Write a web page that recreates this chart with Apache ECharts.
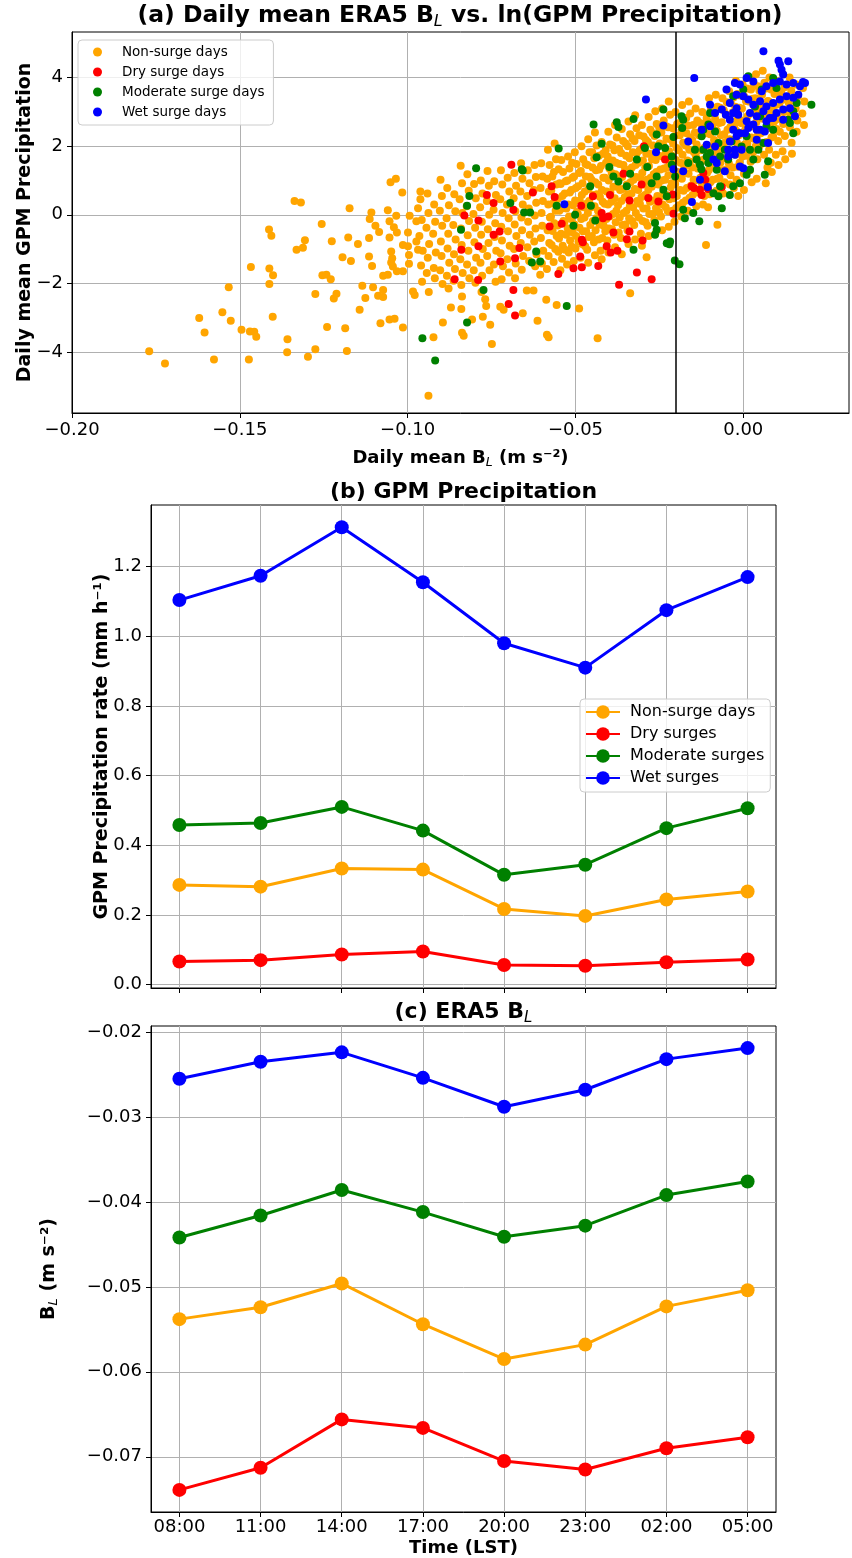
<!DOCTYPE html>
<html><head><meta charset="utf-8">
<script src="https://cdn.jsdelivr.net/npm/echarts@6/dist/echarts.min.js"></script>
<style>html,body{margin:0;padding:0;background:#fff}#c{width:852px;height:1558px}</style>
</head><body><div id="c"></div>
<script>
const FONT = 'DejaVu Sans';

// ---------- Panel (b) and (c) data ----------
const timeLabels = ['08:00','11:00','14:00','17:00','20:00','23:00','02:00','05:00'];
const gpmNonSurge = [0.286,0.281,0.333,0.330,0.217,0.197,0.244,0.267];
const gpmDry      = [0.066,0.070,0.086,0.095,0.056,0.054,0.064,0.072];
const gpmModerate = [0.458,0.464,0.510,0.442,0.315,0.344,0.449,0.506];
const gpmWet      = [1.104,1.174,1.313,1.155,0.980,0.910,1.075,1.170];

const blNonSurge = [-0.0538,-0.0524,-0.0496,-0.0544,-0.0585,-0.0568,-0.0523,-0.0504];
const blDry      = [-0.0739,-0.0713,-0.0656,-0.0666,-0.0705,-0.0715,-0.0690,-0.0677];
const blModerate = [-0.0442,-0.0416,-0.0386,-0.0412,-0.0441,-0.0428,-0.0392,-0.0376];
const blWet      = [-0.0255,-0.0235,-0.0224,-0.0254,-0.0288,-0.0268,-0.0232,-0.0219];

// ---------- Tick labels ----------
const ticksAx = [-0.20,-0.15,-0.10,-0.05,0.00];
const ticksAy = [-4,-2,0,2,4];
const ticksBy = [0.0,0.2,0.4,0.6,0.8,1.0,1.2];
const ticksCy = [-0.07,-0.06,-0.05,-0.04,-0.03,-0.02];
const ticksTime = [0,1,2,3,4,5,6,7];
const surgeThreshold = -0.02;

// ---------- Panel (a) scatter data: [daily mean B_L, ln(precip)] ----------
const scatterNonSurge = [
[-0.1770,-3.98],[-0.1723,-4.34],[-0.1621,-3.01],[-0.1605,-3.43],[-0.1577,-4.22],[-0.1552,-2.84],[-0.1533,-2.11],[-0.1527,-3.09],[-0.1495,-3.35],[-0.1473,-4.22],[-0.1470,-3.40],[-0.1457,-3.41],[-0.1451,-3.56],[-0.1467,-1.52],[-0.1413,-0.43],[-0.1406,-0.61],[-0.1412,-1.57],[-0.1401,-1.76],[-0.1412,-2.02],[-0.1402,-2.97],[-0.1358,-3.63],[-0.1359,-4.01],[-0.1337,0.40],[-0.1318,0.36],[-0.1331,-1.02],[-0.1312,-0.96],[-0.1306,-0.74],[-0.1297,-4.14],[-0.1275,-3.92],[-0.1275,-2.31],[-0.1256,-0.27],[-0.1254,-1.76],[-0.1242,-1.75],[-0.1229,-1.88],[-0.1220,-2.44],[-0.1212,-2.30],[-0.1240,-3.27],[-0.1226,-0.77],[-0.1194,-1.24],[-0.1186,-3.31],[-0.1181,-3.97],[-0.1173,0.19],[-0.1177,-0.66],[-0.1169,-1.35],[-0.1148,-0.85],[-0.1143,-2.77],
[-0.1108,0.07],[-0.1113,-0.12],[-0.1096,-0.32],[-0.1085,-0.50],[-0.1059,0.13],[-0.1034,-0.03],[-0.1054,-0.19],[-0.1041,-0.36],[-0.1032,-0.52],[-0.1054,-0.66],[-0.0999,-0.52],[-0.0994,-0.03],[-0.0974,-0.19],[-0.0969,0.19],[-0.1014,-0.88],[-0.0999,-0.92],[-0.0974,-0.78],[-0.0969,-1.02],[-0.0996,-1.17],[-0.0996,-1.43],[-0.1014,-1.65],[-0.1032,-1.65],[-0.1044,-1.51],[-0.1049,-1.39],[-0.1049,-1.07],[-0.1046,-1.27],[-0.1059,-1.75],[-0.1073,-1.78],[-0.1073,-2.19],[-0.1088,-2.36],[-0.1073,-2.40],[-0.1103,-2.11],[-0.1135,-2.07],[-0.1126,-2.43],[-0.1081,-3.16],[-0.1054,-3.05],[-0.1039,-3.03],[-0.1014,-3.29],[-0.0984,-2.24],[-0.0979,-2.34],[-0.1115,-1.22],[-0.1115,-0.68],[-0.1106,-1.49],
[-0.1051,0.95],[-0.1035,1.05],[-0.1016,0.65],[-0.0962,0.68],
[-0.0938,-5.28],[-0.0923,-3.57],[-0.0895,-3.14],[-0.0838,-3.44],[-0.0833,-3.53],[-0.0808,-3.05],[-0.0871,-2.70],[-0.0840,-2.75],[-0.0838,-2.38],[-0.0769,-2.46],[-0.0766,-2.66],[-0.0776,-2.97],[-0.0754,-3.21],[-0.0749,-3.77],[-0.0724,-2.68],[-0.0714,-2.77],[-0.0657,-2.87],[-0.0645,-2.21],[-0.0625,-2.21],[-0.0613,-3.09],[-0.0585,-3.50],[-0.0580,-3.57],[-0.0587,-2.48],[-0.0556,-2.63],[-0.0489,-2.73],[-0.0434,-3.60],[-0.0337,-2.29],[-0.0288,-1.24],[-0.0111,-0.88],[-0.0077,-0.29],
[-0.0962,0.45],[-0.0958,-0.15],[-0.0965,-0.62],[-0.0955,-1.05],[-0.0960,-1.48],[-0.0957,-1.95],
[-0.0941,0.62],[-0.0938,0.05],[-0.0944,-0.38],[-0.0936,-0.85],[-0.0940,-1.25],[-0.0943,-1.70],[-0.0937,-2.25],
[-0.0921,0.30],[-0.0918,-0.20],[-0.0924,-0.55],[-0.0916,-1.10],[-0.0922,-1.55],[-0.0919,-1.85],
[-0.0902,1.02],[-0.0898,0.55],[-0.0904,0.12],[-0.0897,-0.32],[-0.0901,-0.78],[-0.0899,-1.20],[-0.0903,-1.62],[-0.0896,-2.02],
[-0.0882,0.78],[-0.0877,0.28],[-0.0884,-0.10],[-0.0879,-0.55],[-0.0881,-0.98],[-0.0876,-1.40],[-0.0883,-1.78],[-0.0878,-2.15],
[-0.0861,0.60],[-0.0858,0.10],[-0.0864,-0.30],[-0.0857,-0.72],[-0.0862,-1.15],[-0.0859,-1.58],[-0.0863,-1.92],
[-0.0842,1.43],[-0.0838,0.92],[-0.0845,0.45],[-0.0837,0.05],[-0.0841,-0.40],[-0.0839,-0.88],[-0.0843,-1.30],[-0.0836,-1.70],[-0.0840,-2.05],
[-0.0822,1.18],[-0.0818,0.70],[-0.0824,0.25],[-0.0817,-0.18],[-0.0821,-0.60],[-0.0819,-1.05],[-0.0823,-1.45],[-0.0816,-1.85],
[-0.0802,0.90],[-0.0797,0.48],[-0.0804,0.02],[-0.0799,-0.38],[-0.0801,-0.80],[-0.0796,-1.25],[-0.0803,-1.62],[-0.0798,-1.98],
[-0.0782,1.00],[-0.0777,0.62],[-0.0784,0.22],[-0.0779,-0.20],[-0.0781,-0.58],[-0.0776,-1.00],[-0.0783,-1.40],[-0.0778,-1.78],[-0.0780,-2.25],
[-0.0762,1.28],[-0.0758,0.85],[-0.0764,0.40],[-0.0757,0.00],[-0.0761,-0.42],[-0.0759,-0.82],[-0.0763,-1.20],[-0.0756,-1.62],
[-0.0742,0.98],[-0.0737,0.58],[-0.0744,0.15],[-0.0739,-0.25],[-0.0741,-0.65],[-0.0736,-1.05],[-0.0743,-1.45],[-0.0738,-1.95],
[-0.0722,1.30],[-0.0718,0.88],[-0.0724,0.45],[-0.0717,0.05],[-0.0721,-0.35],[-0.0719,-0.75],[-0.0723,-1.12],[-0.0716,-1.50],[-0.0720,-1.88],
[-0.0702,1.08],[-0.0697,0.68],[-0.0704,0.30],[-0.0699,-0.10],[-0.0701,-0.48],[-0.0696,-0.90],[-0.0703,-1.30],[-0.0698,-1.68],
[-0.0682,1.22],[-0.0677,0.85],[-0.0684,0.48],[-0.0679,0.10],[-0.0681,-0.28],[-0.0676,-0.62],[-0.0683,-1.00],[-0.0678,-1.42],[-0.0680,-1.85],
[-0.0662,1.50],[-0.0658,1.05],[-0.0664,0.68],[-0.0657,0.30],[-0.0661,-0.08],[-0.0659,-0.45],[-0.0663,-0.82],[-0.0656,-1.20],[-0.0660,-1.60],
[-0.0642,1.30],[-0.0637,0.92],[-0.0644,0.55],[-0.0639,0.18],[-0.0641,-0.20],[-0.0636,-0.58],[-0.0643,-0.95],[-0.0638,-1.35],
[-0.0622,1.45],[-0.0618,1.10],[-0.0624,0.72],[-0.0617,0.35],[-0.0621,-0.02],[-0.0619,-0.40],[-0.0623,-0.78],[-0.0616,-1.15],[-0.0620,-1.50],
[-0.0602,1.50],[-0.0598,1.12],[-0.0604,0.78],[-0.0597,0.40],[-0.0601,0.05],[-0.0599,-0.32],[-0.0603,-0.68],[-0.0596,-1.05],[-0.0600,-1.42],[-0.0605,-1.75],
[-0.0582,1.90],[-0.0577,1.45],[-0.0584,1.05],[-0.0579,0.68],[-0.0581,0.30],[-0.0576,-0.08],[-0.0583,-0.45],[-0.0578,-0.82],[-0.0580,-1.20],[-0.0585,-1.58],
[-0.0562,2.08],[-0.0558,1.62],[-0.0564,1.25],[-0.0557,0.88],[-0.0561,0.50],[-0.0559,0.12],[-0.0563,-0.25],[-0.0556,-0.62],[-0.0560,-1.00],[-0.0565,-1.38],
[-0.0542,1.60],[-0.0537,1.25],[-0.0544,0.90],[-0.0539,0.55],[-0.0541,0.18],[-0.0536,-0.18],[-0.0543,-0.55],[-0.0538,-0.90],[-0.0540,-1.28],[-0.0545,-1.62],
[-0.0522,1.70],[-0.0518,1.35],[-0.0524,1.00],[-0.0517,0.65],[-0.0521,0.30],[-0.0519,-0.05],[-0.0523,-0.40],[-0.0516,-0.75],[-0.0520,-1.10],[-0.0525,-1.45],
[-0.0502,1.82],[-0.0497,1.48],[-0.0504,1.12],[-0.0499,0.78],[-0.0501,0.42],[-0.0496,0.08],[-0.0503,-0.28],[-0.0498,-0.62],[-0.0500,-0.98],[-0.0505,-1.35],
[-0.0482,2.00],[-0.0477,1.62],[-0.0484,1.28],[-0.0479,0.92],[-0.0481,0.58],[-0.0476,0.22],[-0.0483,-0.12],[-0.0478,-0.48],[-0.0480,-0.85],[-0.0485,-1.25],
[-0.0462,2.20],[-0.0458,1.82],[-0.0464,1.45],[-0.0457,1.10],[-0.0461,0.75],[-0.0459,0.40],[-0.0463,0.05],[-0.0456,-0.30],[-0.0460,-0.65],[-0.0465,-1.02],[-0.0462,-1.40],
[-0.0442,2.40],[-0.0437,2.02],[-0.0444,1.65],[-0.0439,1.30],[-0.0441,0.95],[-0.0436,0.60],[-0.0443,0.25],[-0.0438,-0.10],[-0.0440,-0.45],[-0.0445,-0.80],[-0.0442,-1.18],
[-0.0422,2.12],[-0.0418,1.78],[-0.0424,1.42],[-0.0417,1.08],[-0.0421,0.72],[-0.0419,0.38],[-0.0423,0.02],[-0.0416,-0.32],[-0.0420,-0.68],[-0.0425,-1.05],[-0.0422,-1.30],
[-0.0402,2.42],[-0.0397,2.05],[-0.0404,1.70],[-0.0399,1.35],[-0.0401,1.00],[-0.0396,0.65],[-0.0403,0.30],[-0.0398,-0.05],[-0.0400,-0.40],[-0.0405,-0.75],[-0.0402,-1.10],
[-0.0382,2.62],[-0.0377,2.25],[-0.0384,1.88],[-0.0379,1.52],[-0.0381,1.18],[-0.0376,0.82],[-0.0383,0.48],[-0.0378,0.12],[-0.0380,-0.22],[-0.0385,-0.58],[-0.0382,-0.95],
[-0.0362,2.50],[-0.0358,2.15],[-0.0364,1.80],[-0.0357,1.45],[-0.0361,1.10],[-0.0359,0.75],[-0.0363,0.40],[-0.0356,0.05],[-0.0360,-0.30],[-0.0365,-0.68],[-0.0362,-1.15],
[-0.0342,2.72],[-0.0337,2.35],[-0.0344,2.00],[-0.0339,1.65],[-0.0341,1.30],[-0.0336,0.95],[-0.0343,0.60],[-0.0338,0.25],[-0.0340,-0.10],[-0.0345,-0.45],[-0.0342,-0.85],
[-0.0322,2.90],[-0.0318,2.52],[-0.0324,2.15],[-0.0317,1.80],[-0.0321,1.45],[-0.0319,1.10],[-0.0323,0.75],[-0.0316,0.40],[-0.0320,0.05],[-0.0325,-0.30],[-0.0322,-0.72],
[-0.0302,2.62],[-0.0297,2.28],[-0.0304,1.92],[-0.0299,1.58],[-0.0301,1.22],[-0.0296,0.88],[-0.0303,0.52],[-0.0298,0.18],[-0.0300,-0.18],[-0.0305,-0.55],[-0.0302,-0.90],
[-0.0282,2.85],[-0.0277,2.48],[-0.0284,2.12],[-0.0279,1.78],[-0.0281,1.42],[-0.0276,1.08],[-0.0283,0.72],[-0.0278,0.38],[-0.0280,0.02],[-0.0285,-0.32],[-0.0282,-0.62],
[-0.0262,3.02],[-0.0258,2.65],[-0.0264,2.30],[-0.0257,1.95],[-0.0261,1.60],[-0.0259,1.25],[-0.0263,0.90],[-0.0256,0.55],[-0.0260,0.20],[-0.0265,-0.15],[-0.0262,-0.55],
[-0.0242,3.10],[-0.0237,2.75],[-0.0244,2.40],[-0.0239,2.05],[-0.0241,1.70],[-0.0236,1.35],[-0.0243,1.00],[-0.0238,0.65],[-0.0240,0.30],[-0.0245,-0.05],[-0.0242,-0.45],
[-0.0222,3.30],[-0.0218,2.92],[-0.0224,2.55],[-0.0217,2.20],[-0.0221,1.85],[-0.0219,1.50],[-0.0223,1.15],[-0.0216,0.80],[-0.0220,0.45],[-0.0225,0.10],[-0.0222,-0.35],
[-0.0202,3.00],[-0.0197,2.65],[-0.0204,2.30],[-0.0199,1.95],[-0.0201,1.60],[-0.0196,1.25],[-0.0203,0.90],[-0.0198,0.55],[-0.0200,0.20],[-0.0205,-0.20],
[-0.0182,3.20],[-0.0177,2.82],[-0.0184,2.45],[-0.0179,2.10],[-0.0181,1.75],[-0.0176,1.40],[-0.0183,1.05],[-0.0178,0.70],[-0.0180,0.35],[-0.0185,-0.05],
[-0.0162,3.30],[-0.0158,2.95],[-0.0164,2.60],[-0.0157,2.25],[-0.0161,1.90],[-0.0159,1.55],[-0.0163,1.20],[-0.0156,0.85],[-0.0160,0.50],[-0.0165,0.12],
[-0.0142,3.10],[-0.0137,2.75],[-0.0144,2.40],[-0.0139,2.05],[-0.0141,1.70],[-0.0136,1.35],[-0.0143,1.00],[-0.0138,0.65],[-0.0140,0.25],
[-0.0122,3.00],[-0.0118,2.65],[-0.0124,2.30],[-0.0117,1.95],[-0.0121,1.60],[-0.0119,1.25],[-0.0123,0.90],[-0.0116,0.55],[-0.0120,0.30],
[-0.0102,3.40],[-0.0097,3.05],[-0.0104,2.70],[-0.0099,2.35],[-0.0101,2.00],[-0.0096,1.65],[-0.0103,1.30],[-0.0098,0.95],[-0.0100,0.60],[-0.0105,0.22],
[-0.0082,3.50],[-0.0077,3.15],[-0.0084,2.80],[-0.0079,2.45],[-0.0081,2.10],[-0.0076,1.75],[-0.0083,1.40],[-0.0078,1.05],[-0.0080,0.70],
[-0.0062,3.40],[-0.0058,3.05],[-0.0064,2.70],[-0.0057,2.35],[-0.0061,2.00],[-0.0059,1.65],[-0.0063,1.30],[-0.0056,0.95],[-0.0060,0.62],
[-0.0042,3.60],[-0.0037,3.25],[-0.0044,2.90],[-0.0039,2.55],[-0.0041,2.20],[-0.0036,1.85],[-0.0043,1.50],[-0.0038,1.15],[-0.0040,0.88],
[-0.0022,3.90],[-0.0018,3.52],[-0.0024,3.15],[-0.0017,2.80],[-0.0021,2.45],[-0.0019,2.10],[-0.0023,1.75],[-0.0016,1.40],[-0.0020,1.02],
[-0.0002,3.80],[0.0003,3.45],[-0.0004,3.10],[0.0001,2.75],[-0.0001,2.40],[0.0004,2.05],[-0.0003,1.70],[0.0002,1.20],
[0.0018,4.00],[0.0023,3.65],[0.0016,3.30],[0.0021,2.95],[0.0019,2.60],[0.0024,2.25],[0.0017,1.90],[0.0022,1.55],[0.0020,1.30],
[0.0038,4.10],[0.0043,3.75],[0.0036,3.40],[0.0041,3.05],[0.0039,2.70],[0.0044,2.35],[0.0037,2.00],[0.0042,1.62],[0.0040,1.05],
[0.0058,4.20],[0.0063,3.85],[0.0056,3.50],[0.0061,3.15],[0.0059,2.80],[0.0064,2.45],[0.0057,2.10],[0.0062,1.75],[0.0067,0.92],
[0.0078,4.00],[0.0083,3.65],[0.0076,3.30],[0.0081,2.95],[0.0079,2.60],[0.0084,2.25],[0.0077,1.90],[0.0082,1.52],
[0.0098,3.90],[0.0103,3.55],[0.0096,3.20],[0.0101,2.85],[0.0099,2.50],[0.0104,2.15],[0.0097,1.75],
[0.0118,4.10],[0.0123,3.72],[0.0116,3.35],[0.0121,3.00],[0.0119,2.65],[0.0124,2.30],[0.0117,1.85],
[0.0138,4.00],[0.0143,3.62],[0.0136,3.25],[0.0141,2.90],[0.0139,2.55],[0.0144,2.10],
[0.0158,3.80],[0.0163,3.45],[0.0156,3.10],[0.0161,2.75],[0.0159,2.42],
[0.0178,3.70],[0.0182,3.30],[0.0176,2.95],[0.0181,2.62],
[0.0002,0.72],[-0.0015,0.55],[0.0025,0.95],[-0.0028,0.78],[0.0085,1.25],[0.0105,1.45],[0.0125,1.62],[0.0145,1.78],[0.0072,1.38],
[-0.0571,-0.88],[-0.0568,-0.47],[-0.0573,-0.06],[-0.0567,0.33],[-0.0572,0.71],[-0.0569,1.12],
[-0.0551,-1.08],[-0.0549,-0.69],[-0.0553,-0.31],[-0.0548,0.12],[-0.0552,0.47],[-0.0547,0.92],[-0.0550,1.33],
[-0.0531,-1.02],[-0.0528,-0.58],[-0.0533,-0.22],[-0.0527,0.18],[-0.0532,0.62],[-0.0529,0.98],
[-0.0511,-0.93],[-0.0508,-0.52],[-0.0513,-0.12],[-0.0507,0.28],[-0.0512,0.72],[-0.0509,1.08],[-0.0510,1.52],
[-0.0491,-0.78],[-0.0488,-0.38],[-0.0493,0.03],[-0.0487,0.41],[-0.0492,0.83],[-0.0489,1.22],
[-0.0471,-0.92],[-0.0468,-0.48],[-0.0473,-0.08],[-0.0467,0.32],[-0.0472,0.68],[-0.0469,1.12],[-0.0470,1.48],
[-0.0451,-0.62],[-0.0448,-0.18],[-0.0453,0.22],[-0.0447,0.58],[-0.0452,1.02],[-0.0449,1.38],[-0.0450,1.82],
[-0.0431,-0.72],[-0.0428,-0.28],[-0.0433,0.12],[-0.0427,0.52],[-0.0432,0.88],[-0.0429,1.32],[-0.0430,1.72],
[-0.0411,-0.48],[-0.0408,-0.12],[-0.0413,0.32],[-0.0407,0.68],[-0.0412,1.08],[-0.0409,1.52],[-0.0410,1.88],
[-0.0391,-0.42],[-0.0388,0.02],[-0.0393,0.38],[-0.0387,0.82],[-0.0392,1.22],[-0.0389,1.58],[-0.0390,2.02],
[-0.0371,-0.52],[-0.0368,-0.08],[-0.0373,0.28],[-0.0367,0.72],[-0.0372,1.12],[-0.0369,1.48],[-0.0370,1.92],
[-0.0351,-0.28],[-0.0348,0.12],[-0.0353,0.52],[-0.0347,0.88],[-0.0352,1.32],[-0.0349,1.72],[-0.0350,2.08],
[-0.0331,-0.18],[-0.0328,0.22],[-0.0333,0.62],[-0.0327,1.02],[-0.0332,1.38],[-0.0329,1.82],[-0.0330,2.22],
[-0.0311,-0.08],[-0.0308,0.32],[-0.0313,0.72],[-0.0307,1.08],[-0.0312,1.52],[-0.0309,1.88],[-0.0310,2.32],
[-0.0291,-0.22],[-0.0288,0.18],[-0.0293,0.58],[-0.0287,1.02],[-0.0292,1.38],[-0.0289,1.78],[-0.0290,2.18],
[-0.0271,0.02],[-0.0268,0.42],[-0.0273,0.82],[-0.0267,1.18],[-0.0272,1.62],[-0.0269,2.02],[-0.0270,2.38],
[-0.0251,0.08],[-0.0248,0.52],[-0.0253,0.88],[-0.0247,1.32],[-0.0252,1.72],[-0.0249,2.08],[-0.0250,2.52],
[-0.0231,0.22],[-0.0228,0.58],[-0.0233,1.02],[-0.0227,1.38],[-0.0232,1.78],[-0.0229,2.22],[-0.0230,2.58],
[-0.0211,0.12],[-0.0208,0.48],[-0.0213,0.92],[-0.0207,1.28],[-0.0212,1.72],[-0.0209,2.08],[-0.0210,2.52],
[-0.0191,0.28],[-0.0188,0.72],[-0.0193,1.08],[-0.0187,1.52],[-0.0192,1.88],[-0.0189,2.32],[-0.0190,2.68],
[-0.0171,0.42],[-0.0168,0.78],[-0.0173,1.22],[-0.0167,1.58],[-0.0172,2.02],[-0.0169,2.38],[-0.0170,2.82],
[-0.0151,0.58],[-0.0148,1.02],[-0.0153,1.38],[-0.0147,1.82],[-0.0152,2.18],[-0.0149,2.62],
[-0.0131,0.72],[-0.0128,1.08],[-0.0133,1.52],[-0.0127,1.88],[-0.0132,2.32],[-0.0129,2.68],
[-0.0111,0.82],[-0.0108,1.22],[-0.0113,1.58],[-0.0107,2.02],[-0.0112,2.38],[-0.0109,2.82],
[-0.0091,1.02],[-0.0088,1.38],[-0.0093,1.82],[-0.0087,2.18],[-0.0092,2.62],[-0.0089,2.98],
[-0.0071,1.08],[-0.0068,1.52],[-0.0073,1.88],[-0.0067,2.32],[-0.0072,2.68],[-0.0069,3.12],
[-0.0051,1.32],[-0.0048,1.68],[-0.0053,2.12],[-0.0047,2.48],[-0.0052,2.92],[-0.0049,3.28],
[-0.0031,1.38],[-0.0028,1.82],[-0.0033,2.18],[-0.0027,2.62],[-0.0032,2.98],[-0.0029,3.42],
[-0.0011,1.52],[-0.0008,1.88],[-0.0013,2.32],[-0.0007,2.68],[-0.0012,3.12],[-0.0009,3.48],
[0.0009,1.72],[0.0012,2.08],[0.0007,2.52],[0.0013,2.88],[0.0008,3.32],[0.0011,3.68],
[0.0029,1.82],[0.0032,2.22],[0.0027,2.58],[0.0033,3.02],[0.0028,3.38],[0.0031,3.82],
[0.0049,2.02],[0.0052,2.38],[0.0047,2.82],[0.0053,3.18],[0.0048,3.62],
[0.0069,2.12],[0.0072,2.52],[0.0067,2.88],[0.0073,3.32],[0.0068,3.68],
[0.0089,2.28],[0.0092,2.72],[0.0087,3.08],[0.0093,3.52],
[0.0109,2.42],[0.0112,2.78],[0.0107,3.22],[0.0113,3.58]
];
const scatterDry = [
[-0.0860,-1.88],[-0.0790,-1.90],[-0.0840,-1.02],[-0.0789,-0.92],[-0.0724,-1.36],[-0.0680,-1.27],[-0.0667,-0.97],[-0.0726,-0.49],[-0.0744,-0.58],[-0.0831,-0.02],[-0.0789,-0.17],[-0.0764,0.58],[-0.0744,0.34],[-0.0691,1.46],[-0.0685,0.15],[-0.0627,0.65],[-0.0571,0.83],[-0.0562,0.52],[-0.0577,-0.34],[-0.0541,-0.26],[-0.0483,0.26],[-0.0481,-0.73],[-0.0478,-0.80],[-0.0448,0.54],[-0.0422,0.05],[-0.0418,-0.10],[-0.0402,-0.05],[-0.0397,0.58],[-0.0387,-0.52],[-0.0339,-0.49],[-0.0347,-0.71],[-0.0300,-0.75],[-0.0339,0.42],[-0.0357,1.20],[-0.0303,0.88],[-0.0283,0.49],[-0.0253,0.39],[-0.0233,1.61],[-0.0208,0.03],[-0.0407,-0.92],[-0.0395,-1.10],[-0.0375,-1.05],[-0.0147,0.78],[-0.0129,0.73],[-0.0124,0.58],[-0.0064,0.81],[-0.0119,1.22],[-0.0699,-2.60],[-0.0680,-2.94],[-0.0685,-2.19],[-0.0370,-2.04],[-0.0317,-1.68],[-0.0273,-1.88],[-0.0432,-1.49],[-0.0481,-1.53],[-0.0506,-1.56],[-0.0486,-1.22],[-0.0551,-1.73],[-0.0296,2.00],[-0.0113,1.02],[-0.0154,0.83],[-0.0210,0.59],[-0.0105,0.75]
];
const scatterModerate = [
[-0.0956,-3.60],[-0.0918,-4.25],[-0.0823,-3.14],[-0.0774,-2.19],[-0.0526,-2.66],[-0.0204,-1.33],[-0.0190,-1.44],[-0.0220,-0.86],[-0.0327,-1.02],[-0.0605,-1.36],[-0.0630,-1.39],[-0.0617,-1.07],
[-0.0796,1.36],[-0.0660,1.33],[-0.0657,1.29],[-0.0816,0.55],[-0.0823,0.26],[-0.0841,-0.44],[-0.0694,0.34],[-0.0653,0.07],[-0.0635,0.07],[-0.0550,1.93],[-0.0556,0.26],[-0.0501,0.00],[-0.0506,-0.32],[-0.0454,0.26],[-0.0456,0.83],[-0.0441,-0.17],[-0.0437,1.68],[-0.0446,2.63],[-0.0422,2.07],[-0.0377,2.70],[-0.0372,2.56],[-0.0327,2.79],[-0.0399,1.39],[-0.0387,1.12],[-0.0372,0.97],[-0.0347,0.83],[-0.0337,1.20],[-0.0317,1.61],[-0.0293,1.95],[-0.0286,1.39],[-0.0273,0.92],[-0.0258,1.12],[-0.0258,2.34],[-0.0253,2.00],[-0.0238,3.07],[-0.0238,0.73],[-0.0228,0.54],[-0.0233,1.95],[-0.0263,-0.24],[-0.0258,-0.44],[-0.0263,-0.58],[-0.0228,-0.83],[-0.0218,-0.78],[-0.0213,1.46],[-0.0203,1.12],[-0.0208,2.27],[-0.0182,2.53],[-0.0213,1.70],[-0.0184,2.87],[-0.0179,2.77],[-0.0179,0.15],[-0.0174,-0.10],[-0.0164,1.51],[-0.0144,1.90],[-0.0139,1.61],[-0.0129,1.46],[-0.0125,1.33],[-0.0149,0.05],[-0.0131,-0.19],[-0.0124,2.29],[-0.0119,2.48],[-0.0119,1.90],[-0.0109,1.70],[-0.0099,1.80],[-0.0104,1.51],[-0.0099,2.97],[-0.0104,2.63],[-0.0084,2.43],[-0.0074,2.09],[-0.0069,1.70],[-0.0079,1.31],[-0.0089,0.63],[-0.0069,0.83],[-0.0074,0.54],[-0.0064,0.19],[-0.0040,0.58],[-0.0030,0.83],[-0.0010,0.92],[-0.0055,1.90],[-0.0045,1.61],[-0.0035,2.14],[-0.0025,1.90],[-0.0015,2.38],[-0.0005,1.99],[0.0010,2.29],[0.0020,1.90],[0.0030,1.61],[0.0020,1.31],[0.0010,1.17],[0.0045,1.90],[0.0060,2.09],[0.0064,1.17],[0.0074,1.56],[-0.0030,3.46],[0.0000,3.65],[0.0015,4.04],[0.0055,3.65],[0.0089,3.99],[0.0099,3.70],[0.0139,2.68],[0.0149,3.02],[0.0203,3.21],[0.0159,3.26],[0.0134,2.77],[0.0035,3.16],[0.0050,2.87],[0.0069,2.58],[0.0089,2.48],[0.0149,2.38]
];
const scatterWet = [
[0.0060,4.77],[0.0109,4.38],[0.0134,4.48],[0.0114,4.23],[0.0119,4.09],[-0.0146,3.99],[-0.0290,3.36],[-0.0025,3.84],[-0.0010,3.80],[0.0010,3.99],[0.0030,3.89],[0.0055,3.60],[0.0069,3.75],[0.0089,3.84],[0.0109,3.89],[0.0129,3.80],[0.0149,3.84],[0.0169,3.75],[0.0184,3.84],[-0.0050,3.65],[-0.0020,3.50],[0.0000,3.46],[0.0015,3.36],[0.0030,3.21],[0.0050,3.31],[0.0069,3.16],[0.0089,3.26],[0.0109,3.36],[0.0129,3.46],[0.0149,3.41],[0.0164,3.50],[0.0020,2.97],[0.0040,2.87],[0.0060,3.02],[0.0079,2.82],[0.0099,2.97],[0.0119,3.07],[0.0139,3.11],[0.0154,2.87],[0.0010,2.73],[0.0030,2.63],[0.0050,2.48],[0.0069,2.73],[0.0089,2.82],[0.0119,2.77],[0.0015,2.53],[0.0005,2.38],[0.0040,2.19],[0.0074,2.09],[-0.0030,2.97],[-0.0040,2.77],[-0.0015,2.92],[-0.0064,3.07],[-0.0052,2.92],[-0.0040,3.26],[-0.0020,3.11],[-0.0099,3.21],[-0.0084,2.97],[-0.0099,2.58],[-0.0109,2.04],[-0.0124,2.48],[-0.0084,1.99],[-0.0030,2.48],[-0.0020,2.29],[-0.0040,2.14],[-0.0010,2.38],[-0.0025,1.90],[-0.0045,1.90],[-0.0005,1.90],[-0.0010,1.41],[0.0000,1.36],[-0.0055,1.27],[-0.0045,1.70],[-0.0025,1.75],[-0.0089,1.61],[-0.0079,1.51],[-0.0106,0.81],[-0.0129,1.02],[-0.0153,0.37],[-0.0179,1.27],[-0.0208,1.33],[-0.0164,2.14],[-0.0238,2.60],[-0.0260,1.82],[-0.0533,0.31],[0.0040,2.48],[0.0064,2.43],[0.0178,3.87],[0.0105,4.49]
];

// ---------- helpers ----------
const C = {non:'#FFA500', dry:'#FF0000', mod:'#008000', wet:'#0000FF'};
const minusFmt = d => v => (v < 0 ? '\u2212' : '') + Math.abs(v).toFixed(d);
const tickFont = {fontFamily: FONT, fontSize: 18, color: '#000'};
const subStyle = (fs, pad) => ({fontFamily: FONT, fontSize: fs, fontStyle: 'italic', fontWeight: 'normal', color: '#000', padding: [pad,0,0,0]});
const gridLine = {show: true, lineStyle: {color: '#b0b0b0', width: 1, type: 'solid'}};
const axisLine = {show: true, onZero: false, lineStyle: {color: '#000', width: 1}};
function tick(vals) { return {show: true, inside: false, length: 5, customValues: vals, lineStyle: {color: '#000', width: 1}}; }
const gridBase = {show: true, borderColor: '#000', borderWidth: 1, backgroundColor: 'transparent', containLabel: false, outerBoundsMode: 'none'};

const option = {
  animation: false,
  backgroundColor: '#fff',
  title: [
    {text: '(a) Daily mean ERA5 B{sub|L} vs. ln(GPM Precipitation)', left: 460, top: 2, textAlign: 'center', padding: 0,
     textStyle: {fontFamily: FONT, fontSize: 23.5, fontWeight: 'bold', color: '#000', rich: {sub: subStyle(16, 12)}}},
    {text: '(b) GPM Precipitation', left: 463.5, top: 481, textAlign: 'center', padding: 0,
     textStyle: {fontFamily: FONT, fontSize: 22, fontWeight: 'bold', color: '#000'}},
    {text: '(c) ERA5 B{sub|L}', left: 463.5, top: 999, textAlign: 'center', padding: 0,
     textStyle: {fontFamily: FONT, fontSize: 22, fontWeight: 'bold', color: '#000', rich: {sub: subStyle(15, 12)}}}
  ],
  grid: [
    Object.assign({left: 72, top: 32, width: 777, height: 381}, gridBase),
    Object.assign({left: 151, top: 505, width: 625, height: 483}, gridBase),
    Object.assign({left: 151, top: 1026, width: 625, height: 486}, gridBase)
  ],
  legend: [
    {data: ['a:Non-surge days','a:Dry surge days','a:Moderate surge days','a:Wet surge days'],
     formatter: n => n.slice(2), orient: 'vertical', left: 78, top: 40, icon: 'circle',
     itemWidth: 9, itemHeight: 9, itemGap: 6, padding: [5, 9, 6, 15], selectedMode: false,
     textStyle: {fontFamily: FONT, fontSize: 13.5, color: '#000', padding: [0, 0, 0, 15]},
     backgroundColor: 'rgba(255,255,255,0.8)', borderColor: '#cccccc', borderWidth: 1, borderRadius: 4},
    {data: ['b:Non-surge days','b:Dry surges','b:Moderate surges','b:Wet surges'],
     formatter: n => n.slice(2), orient: 'vertical', left: 580, top: 699,
     itemWidth: 34, itemHeight: 17, itemGap: 6, padding: [5, 6, 6, 5], selectedMode: false,
     textStyle: {fontFamily: FONT, fontSize: 16, color: '#000', padding: [0, 0, 0, 5]},
     backgroundColor: 'rgba(255,255,255,0.8)', borderColor: '#cccccc', borderWidth: 1, borderRadius: 4}
  ],
  xAxis: [
    {type: 'value', gridIndex: 0, min: -0.2, max: 0.0315, axisLine, axisTick: tick(ticksAx),
     axisLabel: Object.assign({customValues: ticksAx, formatter: minusFmt(2), margin: 8}, tickFont),
     splitLine: gridLine,
     name: 'Daily mean B{sub|L} (m s\u207B\u00B2)', nameLocation: 'middle', nameGap: 34, nameMoveOverlap: false,
     nameTextStyle: {fontFamily: FONT, fontSize: 18, fontWeight: 'bold', color: '#000', rich: {sub: subStyle(12.5, 9)}}},
    {type: 'value', gridIndex: 1, min: -0.35, max: 7.35, axisLine, axisTick: tick(ticksTime),
     axisLabel: {show: false, customValues: ticksTime}, splitLine: gridLine},
    {type: 'value', gridIndex: 2, min: -0.35, max: 7.35, axisLine, axisTick: tick(ticksTime),
     axisLabel: Object.assign({customValues: ticksTime, formatter: v => timeLabels[Math.round(v)], margin: 6}, tickFont),
     splitLine: gridLine,
     name: 'Time (LST)', nameLocation: 'middle', nameGap: 27, nameMoveOverlap: false,
     nameTextStyle: {fontFamily: FONT, fontSize: 18, fontWeight: 'bold', color: '#000'}}
  ],
  yAxis: [
    {type: 'value', gridIndex: 0, min: -5.78, max: 5.33, axisLine, axisTick: tick(ticksAy),
     axisLabel: Object.assign({customValues: ticksAy, formatter: minusFmt(0), margin: 9}, tickFont),
     splitLine: gridLine,
     name: 'Daily mean GPM Precipitation', nameLocation: 'middle', nameGap: 37, nameMoveOverlap: false,
     nameTextStyle: {fontFamily: FONT, fontSize: 19, fontWeight: 'bold', color: '#000'}},
    {type: 'value', gridIndex: 1, min: -0.010, max: 1.377, axisLine, axisTick: tick(ticksBy),
     axisLabel: Object.assign({customValues: ticksBy, formatter: v => v.toFixed(1), margin: 9}, tickFont),
     splitLine: gridLine,
     name: 'GPM Precipitation rate (mm h\u207B\u00B9)', nameLocation: 'middle', nameGap: 39, nameMoveOverlap: false,
     nameTextStyle: {fontFamily: FONT, fontSize: 19, fontWeight: 'bold', color: '#000'}},
    {type: 'value', gridIndex: 2, min: -0.0765, max: -0.0193, axisLine, axisTick: tick(ticksCy),
     axisLabel: Object.assign({customValues: ticksCy, formatter: minusFmt(2), margin: 9}, tickFont),
     splitLine: gridLine,
     name: 'B{sub|L} (m s\u207B\u00B2)', nameLocation: 'middle', nameGap: 91, nameMoveOverlap: false,
     nameTextStyle: {fontFamily: FONT, fontSize: 19, fontWeight: 'bold', color: '#000', rich: {sub: subStyle(13, 9)}}}
  ],
  series: []
};

function scatter(name, data, color, extra) {
  return Object.assign({name: 'a:' + name, type: 'scatter', xAxisIndex: 0, yAxisIndex: 0, data,
    symbol: 'circle', symbolSize: 8, itemStyle: {color, opacity: 1}, emphasis: {disabled: true}, silent: true}, extra || {});
}
option.series.push(scatter('Non-surge days', scatterNonSurge, C.non));
option.series.push(scatter('Dry surge days', scatterDry, C.dry));
option.series.push(scatter('Moderate surge days', scatterModerate, C.mod));
option.series.push(scatter('Wet surge days', scatterWet, C.wet, {
  markLine: {silent: true, symbol: ['none','none'], label: {show: false}, emphasis: {disabled: true},
    lineStyle: {color: '#000', width: 1.5, type: 'solid'}, data: [{xAxis: surgeThreshold}]}
}));

function line(prefix, idx, name, vals, color) {
  return {name: prefix + name, type: 'line', xAxisIndex: idx, yAxisIndex: idx,
    data: vals.map((v, i) => [i, v]), symbol: 'circle', symbolSize: 14, showAllSymbol: true,
    lineStyle: {color, width: 3}, itemStyle: {color}, emphasis: {disabled: true}, silent: true};
}
[['Non-surge days', gpmNonSurge, C.non], ['Dry surges', gpmDry, C.dry], ['Moderate surges', gpmModerate, C.mod], ['Wet surges', gpmWet, C.wet]]
  .forEach(s => option.series.push(line('b:', 1, s[0], s[1], s[2])));
[['Non-surge days', blNonSurge, C.non], ['Dry surges', blDry, C.dry], ['Moderate surges', blModerate, C.mod], ['Wet surges', blWet, C.wet]]
  .forEach(s => option.series.push(line('c:', 2, s[0], s[1], s[2])));

const chart = echarts.init(document.getElementById('c'), null, {renderer: 'canvas', width: 852, height: 1558});
chart.setOption(option);
</script>
</body></html>
